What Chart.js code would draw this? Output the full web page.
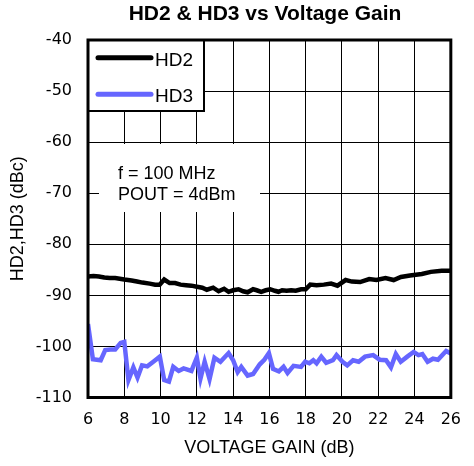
<!DOCTYPE html>
<html>
<head>
<meta charset="utf-8">
<script src="https://cdn.jsdelivr.net/npm/chart.js@4.4.1/dist/chart.umd.min.js"></script>
<style>
  html,body{margin:0;padding:0;background:#fff;}
  #wrap{width:474px;height:466px;}
</style>
</head>
<body>
<div id="wrap"><canvas id="c" width="474" height="466"></canvas></div>
<script>
// data
const hd2Gain = [6.0,6.3,6.6,6.9,7.2,7.5,8.0,8.4,8.7,9.0,9.4,9.7,9.95,10.2,10.5,10.8,11.1,11.4,11.7,12.0,12.3,12.55,12.9,13.2,13.5,13.75,14.0,14.3,14.55,14.8,15.1,15.3,15.55,15.8,16.05,16.3,16.5,16.7,16.95,17.2,17.45,17.75,18.0,18.25,18.6,19.0,19.4,19.75,20.2,20.55,21.0,21.5,21.9,22.4,22.85,23.25,23.75,24.4,24.9,25.5,26.0];
const hd2Vals = [-86.3,-86.2,-86.3,-86.5,-86.6,-86.6,-86.9,-87.1,-87.3,-87.5,-87.7,-87.9,-87.9,-86.9,-87.6,-87.6,-87.9,-88.0,-88.1,-88.3,-88.5,-88.9,-88.5,-89.2,-88.7,-89.3,-89.0,-88.8,-89.2,-89.4,-88.8,-89.0,-89.3,-89.0,-88.8,-89.1,-89.3,-89.0,-89.1,-89.0,-89.1,-88.8,-88.8,-87.9,-88.0,-87.9,-87.7,-88.1,-87.0,-87.3,-87.4,-86.8,-87.0,-86.6,-87.0,-86.4,-86.1,-85.8,-85.4,-85.2,-85.2];

const hd3Gain = [6.0,6.27,6.7,6.95,7.25,7.5,7.8,8.0,8.23,8.5,8.73,8.98,9.27,9.6,9.96,10.2,10.46,10.7,11.0,11.27,11.7,12.0,12.2,12.43,12.7,12.97,13.3,13.75,14.0,14.25,14.45,14.8,15.1,15.47,15.72,15.97,16.2,16.52,16.78,17.0,17.33,17.74,17.97,18.2,18.42,18.6,18.86,19.13,19.5,19.7,20.03,20.29,20.61,20.92,21.27,21.72,22.08,22.43,22.7,22.97,23.24,23.6,23.95,24.22,24.43,24.72,25.02,25.29,25.74,26.0];
const hd3Vals = [-95.6,-102.5,-102.7,-100.7,-100.6,-100.6,-99.3,-99.1,-106.6,-104.1,-106.1,-103.7,-103.9,-103.0,-102.0,-106.6,-106.9,-104.0,-104.8,-104.3,-104.8,-102.2,-106.3,-103.0,-106.4,-102.2,-103.0,-101.3,-102.7,-105.0,-104.0,-105.7,-105.4,-103.5,-102.6,-101.3,-104.4,-104.9,-104.0,-105.2,-103.8,-104.0,-103.0,-103.3,-102.7,-103.3,-102.0,-103.2,-102.7,-101.7,-103.0,-103.7,-102.7,-103.0,-102.0,-101.7,-102.6,-102.7,-104.1,-101.5,-103.0,-102.0,-101.1,-101.7,-101.5,-103.0,-102.4,-102.6,-100.9,-101.4];

const seriesNames = ["HD2","HD3"];
const seriesColors = ["#000000","#6666ff"];
const noteLines = ["f = 100 MHz","POUT = 4dBm"];
const chartTitle = "HD2 & HD3 vs Voltage Gain";

const toXY = (xs, ys) => xs.map((x,i)=>({x:x, y:ys[i]}));

// title, legend box, note box and heavy frame drawn by hand
const decor = {
  id:'decor',
  beforeDatasetsDraw(chart){
    const ctx = chart.ctx, a = chart.chartArea;
    ctx.save();
    // note box (white, hides grid)
    ctx.fillStyle = '#fff';
    ctx.fillRect(99, 144, 161, 68);
    ctx.fillStyle = '#000';
    ctx.font = '18px "Liberation Sans", Arial, sans-serif';
    ctx.textBaseline = 'alphabetic';
    ctx.textAlign = 'left';
    ctx.fillText(noteLines[0], 118, 179);
    ctx.fillText(noteLines[1], 118, 199.5);
    // legend box
    ctx.fillStyle = '#fff';
    ctx.fillRect(a.left, a.top, 116, 71);
    ctx.strokeStyle = '#000';
    ctx.lineWidth = 2;
    ctx.strokeRect(a.left, a.top, 116, 71);
    const rows = [57.7, 94.3];
    ctx.font = '19px "Liberation Sans", Arial, sans-serif';
    seriesNames.forEach((n,i)=>{
      ctx.strokeStyle = seriesColors[i];
      ctx.lineWidth = 5;
      ctx.lineCap = 'round';
      ctx.beginPath(); ctx.moveTo(98, rows[i]); ctx.lineTo(151, rows[i]); ctx.stroke();
      ctx.fillStyle = '#000';
      ctx.fillText(n, 155, rows[i] + 7.8);
    });
    ctx.restore();
  },
  afterDraw(chart){
    const ctx = chart.ctx, a = chart.chartArea;
    ctx.save();
    ctx.strokeStyle = '#000';
    ctx.lineWidth = 3;
    ctx.strokeRect(a.left, a.top, a.right - a.left, a.bottom - a.top);
    ctx.fillStyle = '#000';
    ctx.font = 'bold 21px "Liberation Sans", Arial, sans-serif';
    ctx.textAlign = 'center';
    ctx.textBaseline = 'alphabetic';
    ctx.fillText(chartTitle, 265, 19.5);
    ctx.restore();
  }
};

new Chart(document.getElementById('c'), {
  type:'line',
  data:{
    datasets:[
      {label:seriesNames[0], data:toXY(hd2Gain,hd2Vals), borderColor:seriesColors[0], borderWidth:4.5, pointRadius:0, tension:0},
      {label:seriesNames[1], data:toXY(hd3Gain,hd3Vals), borderColor:seriesColors[1], borderWidth:4.5, pointRadius:0, tension:0}
    ]
  },
  options:{
    responsive:false,
    animation:false,
    events:[],
    layout:{padding:{left:0, top:40, right:12, bottom:0}},
    plugins:{legend:{display:false}, tooltip:{enabled:false}, title:{display:false}},
    scales:{
      x:{
        type:'linear', min:6, max:26,
        ticks:{stepSize:2, color:'#000', padding:13, font:{family:'"DejaVu Sans"', size:16}},
        grid:{color:'#000', lineWidth:1, drawTicks:false},
        border:{display:false},
        title:{display:true, text:'VOLTAGE GAIN (dB)', color:'#000', font:{family:'"Liberation Sans"', size:18}, padding:{top:4, bottom:7}},
        afterFit(s){ s.height = 68.5; }
      },
      y:{
        min:-110, max:-40,
        ticks:{stepSize:10, color:'#000', padding:16, font:{family:'"DejaVu Sans"', size:16}},
        grid:{color:'#000', lineWidth:1, drawTicks:false},
        border:{display:false},
        title:{display:true, text:'HD2,HD3 (dBc)', color:'#000', font:{family:'"Liberation Sans"', size:18}, padding:{top:7, bottom:4}},
        afterFit(s){ s.width = 88; }
      }
    }
  },
  plugins:[decor]
});
</script>
</body>
</html>
